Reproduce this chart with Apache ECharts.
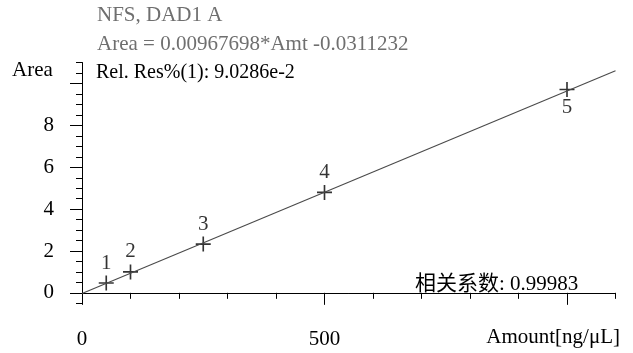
<!DOCTYPE html>
<html>
<head>
<meta charset="utf-8">
<script src="https://cdn.jsdelivr.net/npm/echarts@6/dist/echarts.min.js"></script>
<style>
  html, body { margin: 0; padding: 0; background: #fff; }
  #chart { width: 633px; height: 353px; }
</style>
</head>
<body>
<div id="chart"></div>
<script>
// Calibration standards: amount vs. measured peak area
const amounts = [50, 100, 250, 500, 1000];
const areas = [0.47, 1.0, 2.33, 4.8, 9.72];
const levelNames = ['1', '2', '3', '4', '5'];

// Fitted regression line end points (Area = 0.00967698*Amt - 0.0311232)
const fitAmt = [0, 1100];
const fitArea = [-0.031, 10.614];

// Axis ticks and labels
const yMajorTicks = [0, 2, 4, 6, 8, 10];
const yLabels = [0, 2, 4, 6, 8];
const yMinorTicks = [-0.5, 0.5, 1, 1.5, 2.5, 3, 3.5, 4.5, 5, 5.5, 6.5, 7, 7.5, 8.5, 9, 9.5, 10.5, 11];
const xMajorTicks = [0, 500, 1000];
const xLabels = [0, 500];
const xMinorTicks = [100, 200, 300, 400, 600, 700, 800, 900, 1100];

const SERIF = '"Liberation Serif", "Times New Roman", serif';
const CJK = '"Liberation Serif", "Noto Sans CJK SC", serif';
const GRAY = '#6f6f6f';

const chart = echarts.init(document.getElementById('chart'), null, { renderer: 'canvas' });

// plus-shaped marker for the standards
const plus = 'path://M8.9,0h2.2v8.9h8.9v2.2h-8.9v8.9h-2.2v-8.9h-8.9v-2.2h8.9z';

const grid = { left: 82, right: 17.5, top: 62.7, bottom: 49.7 };

const xBase = {
  type: 'value', min: 0, max: 1100, position: 'bottom', gridIndex: 0,
  splitLine: { show: false },
  axisLine: { show: true, lineStyle: { color: '#000', width: 1 } }
};
const yBase = {
  type: 'value', min: -0.5, max: 11, position: 'left', gridIndex: 0,
  splitLine: { show: false },
  axisLine: { show: true, lineStyle: { color: '#000', width: 1 } }
};

chart.setOption({
  animation: false,
  backgroundColor: '#fff',
  grid: grid,
  xAxis: [
    Object.assign({}, xBase, {
      axisTick: { show: true, length: 12, customValues: xMajorTicks, lineStyle: { color: '#000' } },
      axisLabel: { show: true, customValues: xLabels, margin: 26, color: '#000',
        fontFamily: SERIF, fontSize: 21 }
    }),
    Object.assign({}, xBase, {
      axisTick: { show: true, length: 6, customValues: xMinorTicks, lineStyle: { color: '#000' } },
      axisLabel: { show: false }
    })
  ],
  yAxis: [
    Object.assign({}, yBase, {
      axisTick: { show: true, length: 12, customValues: yMajorTicks, lineStyle: { color: '#000' } },
      axisLabel: { show: true, customValues: yLabels, margin: 28, color: '#000',
        fontFamily: SERIF, fontSize: 21 }
    }),
    Object.assign({}, yBase, {
      axisTick: { show: true, length: 6, customValues: yMinorTicks, lineStyle: { color: '#000' } },
      axisLabel: { show: false }
    })
  ],
  series: [
    {
      type: 'line',
      xAxisIndex: 0, yAxisIndex: 0,
      data: fitAmt.map((a, i) => [a, fitArea[i]]),
      symbol: 'none',
      lineStyle: { color: '#4a4a4a', width: 1.1 },
      silent: true
    },
    {
      type: 'scatter',
      xAxisIndex: 0, yAxisIndex: 0,
      symbol: plus,
      symbolSize: 15,
      itemStyle: { color: '#000' },
      data: amounts.map((a, i) => ({
        value: [a, areas[i]],
        label: i === amounts.length - 1 ? { position: 'bottom', distance: 0 } : {}
      })),
      label: {
        show: true, position: 'top', distance: 2,
        formatter: p => levelNames[p.dataIndex],
        color: '#000', fontFamily: SERIF, fontSize: 21
      }
    }
  ],
  graphic: [
    { type: 'text', left: 97, top: 5,
      style: { text: 'NFS, DAD1 A', fill: GRAY, font: '21px ' + SERIF } },
    { type: 'text', left: 97, top: 34,
      style: { text: 'Area = 0.00967698*Amt -0.0311232', fill: GRAY, font: '21px ' + SERIF } },
    { type: 'text', left: 96, top: 63,
      style: { text: 'Rel. Res%(1): 9.0286e-2', fill: '#000', font: '20px ' + SERIF } },
    { type: 'text', left: 12, top: 60,
      style: { text: 'Area', fill: '#000', font: '21px ' + SERIF } },
    { type: 'text', right: 13, top: 327,
      style: { text: 'Amount[ng/μL]', fill: '#000', font: '21px ' + SERIF } },
    { type: 'text', left: 415, top: 274,
      style: { text: '相关系数: 0.99983', fill: '#000', font: '21px ' + CJK } }
  ]
});
</script>
</body>
</html>
